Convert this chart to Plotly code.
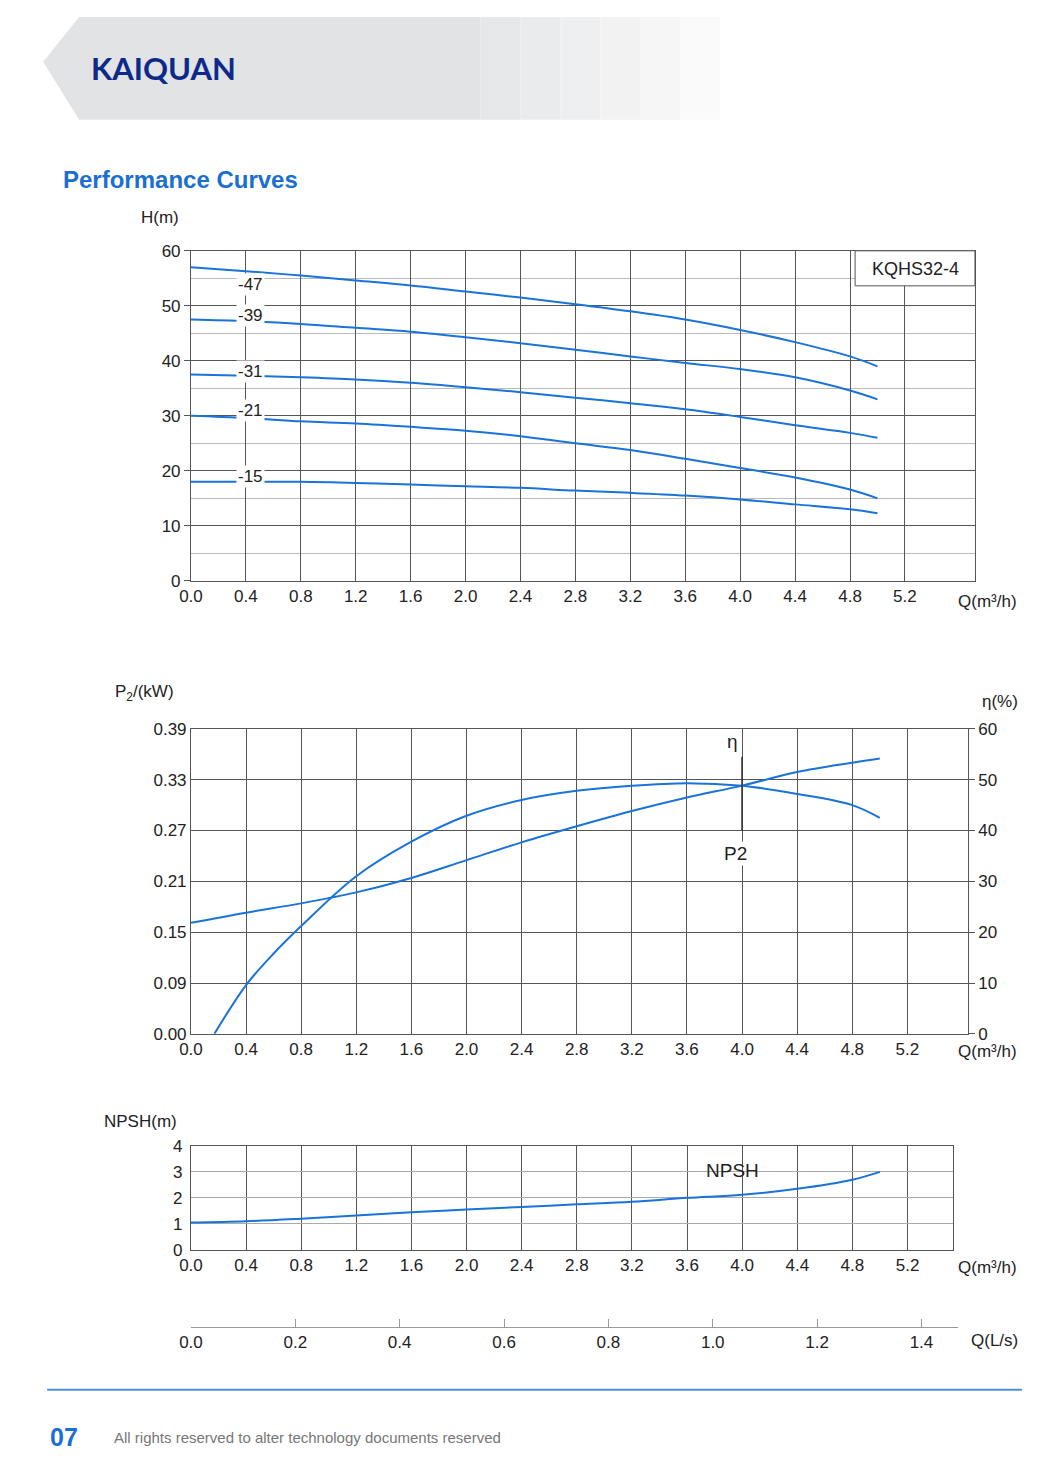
import plotly.graph_objects as go

W, H = 1046, 1466
OFF = 8
AX, BX = 0.9898, 10.9   # observed page scaling compensation
AY, BY = 0.987, 9.3
def px(x): return (((x - BX) / AX) - OFF) / W
def py(y): return 1 - (((y - BY) / AY) - OFF) / H

# ---- data ----
q_head = [0.0, 0.4, 0.8, 1.2, 1.6, 2.0, 2.4, 2.8, 3.2, 3.6, 4.0, 4.4, 4.8, 5.0]
head_47 = [57.0, 56.3, 55.5, 54.6, 53.7, 52.6, 51.5, 50.3, 49.0, 47.5, 45.6, 43.4, 40.8, 39.0]
head_39 = [47.5, 47.2, 46.7, 46.0, 45.3, 44.3, 43.2, 42.0, 40.8, 39.6, 38.5, 37.0, 34.6, 33.0]
head_31 = [37.5, 37.3, 37.0, 36.6, 36.0, 35.2, 34.3, 33.3, 32.3, 31.2, 29.8, 28.3, 26.9, 26.0]
head_21 = [30.0, 29.6, 29.0, 28.6, 28.0, 27.3, 26.3, 25.0, 23.8, 22.2, 20.5, 18.8, 16.6, 15.0]
head_15 = [18.0, 18.0, 18.0, 17.8, 17.5, 17.2, 16.9, 16.4, 16.0, 15.5, 14.8, 13.9, 13.0, 12.3]
head_series = [("-47", head_47, 53.8), ("-39", head_39, 48.3), ("-31", head_31, 38.0),
               ("-21", head_21, 31.0), ("-15", head_15, 19.0)]

q_p2 = [0.0, 0.4, 0.8, 1.2, 1.6, 2.0, 2.4, 2.8, 3.2, 3.6, 4.0, 4.4, 4.8, 5.0]
p2_kw = [0.161, 0.173, 0.184, 0.197, 0.214, 0.235, 0.256, 0.275, 0.293, 0.309, 0.323, 0.339, 0.350, 0.355]
q_eta = [0.17, 0.4, 0.6, 0.8, 1.2, 1.6, 2.0, 2.4, 2.8, 3.2, 3.6, 4.0, 4.4, 4.8, 5.0]
eta_pct = [0.0, 9.6, 15.8, 21.2, 31.0, 37.8, 42.9, 46.0, 47.8, 48.8, 49.3, 48.8, 47.2, 45.0, 42.5]

q_npsh = [0.0, 0.4, 0.8, 1.2, 1.6, 2.0, 2.4, 2.8, 3.2, 3.6, 4.0, 4.4, 4.8, 5.0]
npsh_m = [1.05, 1.1, 1.2, 1.32, 1.45, 1.55, 1.65, 1.75, 1.85, 2.0, 2.12, 2.35, 2.7, 3.0]

q_ticks = [0.0, 0.4, 0.8, 1.2, 1.6, 2.0, 2.4, 2.8, 3.2, 3.6, 4.0, 4.4, 4.8, 5.2]
h_ticks = [0, 10, 20, 30, 40, 50, 60]
p2_tickvals = [0.03, 0.09, 0.15, 0.21, 0.27, 0.33, 0.39]
p2_ticktext = ["0.00", "0.09", "0.15", "0.21", "0.27", "0.33", "0.39"]
eta_ticks = [0, 10, 20, 30, 40, 50, 60]
npsh_ticks = [0, 1, 2, 3, 4]
ls_ticks = [0.0, 0.2, 0.4, 0.6, 0.8, 1.0, 1.2, 1.4]

BLUE = "#1a73d9"
FONT = "Liberation Sans"
GRID = "#555555"
fig = go.Figure()

for name, ys, _ in head_series:
    fig.add_trace(go.Scatter(x=q_head, y=ys, mode="lines", line=dict(color=BLUE, width=2, shape="spline"),
                             xaxis="x", yaxis="y", showlegend=False))
fig.add_trace(go.Scatter(x=q_p2, y=p2_kw, mode="lines", line=dict(color=BLUE, width=2, shape="spline"),
                         xaxis="x2", yaxis="y2", showlegend=False))
fig.add_trace(go.Scatter(x=q_eta, y=eta_pct, mode="lines", line=dict(color=BLUE, width=2, shape="spline"),
                         xaxis="x2", yaxis="y5", showlegend=False))
fig.add_trace(go.Scatter(x=q_npsh, y=npsh_m, mode="lines", line=dict(color=BLUE, width=2, shape="spline"),
                         xaxis="x3", yaxis="y3", showlegend=False))
fig.add_trace(go.Scatter(x=[0], y=[0], mode="markers", marker=dict(opacity=0), xaxis="x4", yaxis="y4",
                         showlegend=False, hoverinfo="skip"))

tickf = dict(family=FONT, size=17, color="#222")
def xax(domain, rng, anchor, ticks=q_ticks, grid=True):
    return dict(domain=domain, range=rng, anchor=anchor, tickvals=ticks,
                ticktext=[f"{t:.1f}" for t in ticks], tickfont=tickf, showgrid=grid,
                gridcolor=GRID, gridwidth=1, showline=True, linecolor=GRID, mirror=True,
                zeroline=False, ticks="", ticklen=0)

fig.update_layout(
    width=W, height=H, margin=dict(l=0, r=0, t=0, b=0),
    paper_bgcolor="white", plot_bgcolor="white",
    xaxis=xax([px(190), px(975)], [0, 5.71], "y"),
    yaxis=dict(domain=[py(581), py(251)], range=[0, 60], anchor="x", tickvals=h_ticks, tickfont=tickf,
               showgrid=True, gridcolor=GRID, showline=True, linecolor=GRID, mirror=True, zeroline=False,
               minor=dict(dtick=5, showgrid=True, gridcolor="#bbbbbb"), ticks="outside", ticklen=6, tickcolor=GRID),
    xaxis2=xax([px(190), px(968)], [0, 5.64], "y2"),
    yaxis2=dict(domain=[py(1034), py(729)], range=[0.03, 0.39], anchor="x2", tickvals=p2_tickvals,
                ticktext=p2_ticktext, tickfont=tickf, showgrid=True, gridcolor=GRID, showline=True,
                linecolor=GRID, mirror=True, zeroline=False),
    yaxis5=dict(overlaying="y2", side="right", range=[0, 60], anchor="x2", tickvals=eta_ticks,
                tickfont=tickf, showgrid=False, zeroline=False, ticks="outside", ticklen=6, tickcolor=GRID),
    xaxis3=xax([px(190), px(953)], [0, 5.53], "y3"),
    yaxis3=dict(domain=[py(1250), py(1146)], range=[0, 4], anchor="x3", tickvals=npsh_ticks, tickfont=tickf,
                showgrid=True, gridcolor="#aaaaaa", showline=True, linecolor=GRID, mirror=True, zeroline=False,
                ticks="outside", ticklen=4, tickcolor="white"),
    xaxis4=dict(domain=[px(190), px(958)], range=[0, 1.47], anchor="y4", tickvals=ls_ticks,
                ticktext=[f"{t:.1f}" for t in ls_ticks], tickfont=tickf, showgrid=False, showline=True,
                linecolor="#999", ticks="inside", ticklen=8, tickcolor="#999", zeroline=False, side="bottom"),
    yaxis4=dict(domain=[py(1327), py(1320)], range=[0, 1], anchor="x4", visible=False),
)

shapes = []
shapes.append(dict(type="path", xref="paper", yref="paper", layer="below",
                   path=f"M {px(78)},{min(1, py(0))} L {px(480)},{min(1, py(0))} L {px(480)},{py(120)} L {px(78)},{py(120)} L {px(42)},{py(62)} Z",
                   fillcolor="#e2e3e5", line=dict(width=0)))
for i, c in enumerate(["#e6e7e9", "#eaebec", "#eeeff0", "#f2f2f3", "#f6f6f7", "#fafafa"]):
    shapes.append(dict(type="rect", xref="paper", yref="paper", layer="below",
                       x0=px(480 + i * 40), x1=px(520 + i * 40), y0=py(120), y1=min(1, py(0)),
                       fillcolor=c, line=dict(width=0)))
shapes.append(dict(type="line", xref="paper", yref="paper", x0=px(46), x1=px(1022), y0=py(1390), y1=py(1390),
                   line=dict(color="#4a90e2", width=2)))
shapes.append(dict(type="line", xref="x2", yref="y5", x0=4.0, x1=4.0, y0=40, y1=54.5, line=dict(color="#333", width=1.5)))
shapes.append(dict(type="rect", xref="paper", yref="paper", x0=px(855), x1=px(975), y0=py(286), y1=py(251),
                   fillcolor="white", line=dict(color=GRID, width=1)))
fig.update_layout(shapes=shapes)

ann = []
def A(text, x, y, size=17, color="#222", xanchor="center", bold=False, xref="paper", yref="paper", bg=None, fam=FONT):
    d = dict(text=f"<b>{text}</b>" if bold else text, x=x, y=y, xref=xref, yref=yref, showarrow=False,
             font=dict(family=fam, size=size, color=color), xanchor=xanchor, yanchor="middle")
    if bg: d["bgcolor"] = bg
    ann.append(d)

A("KAIQUAN", px(88), py(68), size=31, color="#0d2a8a", xanchor="left", bold=True, fam="Lato")
A("Performance Curves", px(60), py(180), size=24, color="#1a6fd0", xanchor="left", bold=True)
A("H(m)", px(159), py(218))
A("KQHS32-4", px(915), py(269), size=18)
A("Q(m³/h)", px(988), py(602))
for name, _, yl in head_series:
    A(name, 0.43, yl, xref="x", yref="y", bg="white")
A("P<sub>2</sub>/(kW)", px(143), py(693))
A("η(%)", px(1000), py(702))
A("η", 4.0 - 0.07, 57.5, xref="x2", yref="y5", size=19)
A("P2", 4.0 - 0.05, 35.5, xref="x2", yref="y5", size=19, bg="white")
A("Q(m³/h)", px(988), py(1052))
A("NPSH(m)", px(139), py(1122))
A("NPSH", 3.93, 3.05, xref="x3", yref="y3", size=19)
A("Q(m³/h)", px(988), py(1268))
A("Q(L/s)", px(995), py(1341))
A("07", px(47), py(1437), size=25, color="#1a6fd0", xanchor="left", bold=True)
A("All rights reserved to alter technology documents reserved", px(111), py(1438), size=15, color="#777", xanchor="left")
fig.update_layout(annotations=ann)

fig.write_html("out.html")
